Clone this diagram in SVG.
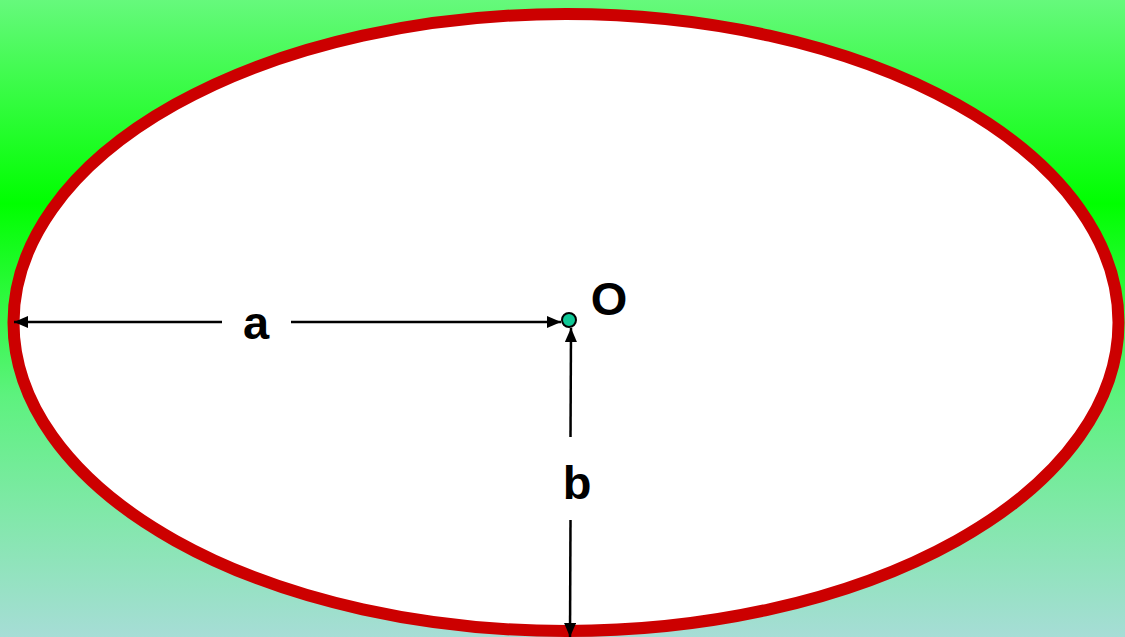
<svg xmlns="http://www.w3.org/2000/svg" width="1125" height="637" viewBox="0 0 1125 637">
<defs>
<linearGradient id="bg" x1="0" y1="0" x2="0" y2="1">
<stop offset="0" stop-color="#66f97c"/>
<stop offset="0.32" stop-color="#00ff00"/>
<stop offset="0.62" stop-color="#5df27e"/>
<stop offset="1" stop-color="#a6ddd6"/>
</linearGradient>
<marker id="ah" viewBox="0 0 14 12" refX="14" refY="6" markerWidth="14" markerHeight="12" markerUnits="userSpaceOnUse" orient="auto">
<path d="M0,0 L14,6 L0,12 z" fill="#000"/>
</marker>
<style>
.lbl{font-family:"Liberation Sans",Arial,sans-serif;font-weight:bold;font-size:47px;fill:#000}
.ln{stroke:#000;stroke-width:2.5;fill:none}
</style>
</defs>
<rect width="1125" height="637" fill="url(#bg)"/>
<g id="ellipse">
<ellipse cx="566" cy="322.5" rx="552.5" ry="308.5" fill="#fff" stroke="#cc0000" stroke-width="12"/>
</g>
<g id="connectors">
<line class="ln" x1="222" y1="322" x2="14" y2="322" marker-end="url(#ah)"/>
<line class="ln" x1="291" y1="322" x2="561" y2="322" marker-end="url(#ah)"/>
<line class="ln" x1="570.5" y1="437" x2="571" y2="328" marker-end="url(#ah)"/>
<line class="ln" x1="570.5" y1="520" x2="570" y2="637" marker-end="url(#ah)"/>
</g>
<g id="center">
<circle cx="569" cy="320" r="7" fill="#10c896" stroke="#000" stroke-width="2"/>
<text class="lbl" x="609" y="315" text-anchor="middle">O</text>
</g>
<g id="label-a"><text class="lbl" x="256" y="339" text-anchor="middle">a</text></g>
<g id="label-b"><text class="lbl" x="577" y="499" text-anchor="middle">b</text></g>
</svg>
